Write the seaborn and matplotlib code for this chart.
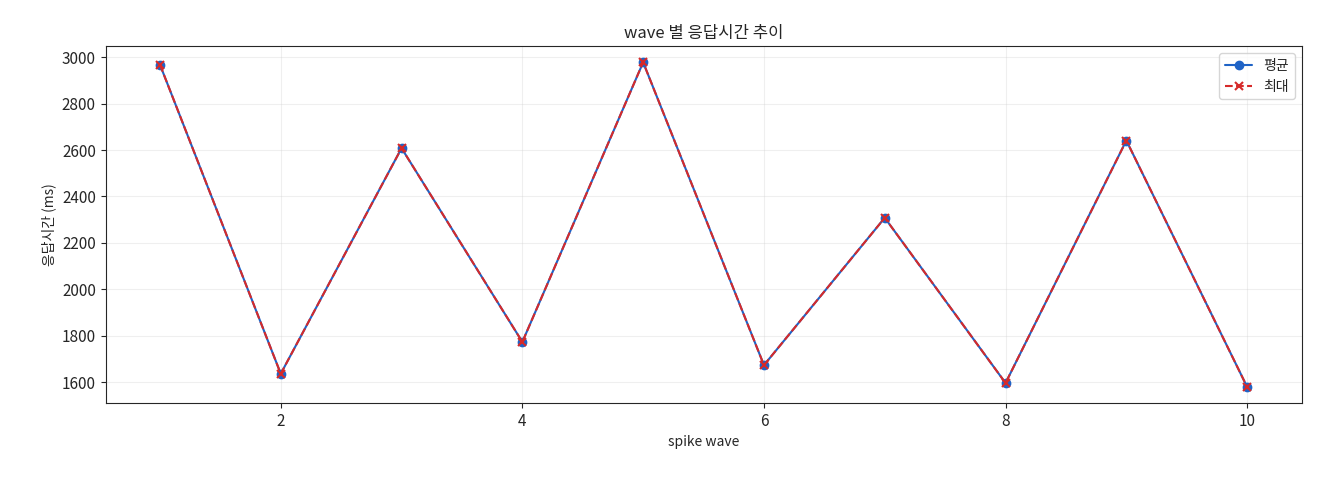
import numpy as np
import pandas as pd
import matplotlib
matplotlib.use("Agg")
import matplotlib.pyplot as plt
import seaborn as sns

sns.set_style("ticks")
plt.rcParams['font.family'] = ['Noto Sans CJK KR', 'DejaVu Sans']
plt.rcParams['axes.unicode_minus'] = False

# data
waves = [1, 2, 3, 4, 5, 6, 7, 8, 9, 10]
avg_ms = [2968, 1636, 2608, 1773, 2978, 1673, 2308, 1596, 2641, 1579]
max_ms = [2968, 1636, 2608, 1773, 2978, 1673, 2308, 1596, 2641, 1579]

df = pd.DataFrame({"wave": waves, "avg": avg_ms, "max": max_ms})

fig, ax = plt.subplots(figsize=(13.2, 4.8), dpi=100)
ax.plot(df["wave"], df["avg"], marker="o", color="#1f63c6", markersize=6,
        linewidth=1.5, label="평균")
ax.plot(df["wave"], df["max"], marker="x", color="#d62a2a", linestyle="--",
        markersize=6, markeredgewidth=1.5, linewidth=1.5, label="최대")

ax.set_title("wave 별 응답시간 추이", fontsize=12)
ax.set_xlabel("spike wave", fontsize=10)
ax.set_ylabel("응답시간 (ms)", fontsize=10)
ax.tick_params(labelsize=11)
ax.grid(True, alpha=0.3)
for s in ax.spines.values():
    s.set_visible(True)
ax.legend(loc="upper right", fontsize=10)

plt.subplots_adjust(left=0.08, right=0.986, top=0.904, bottom=0.16)
plt.savefig("out.png", dpi=100)
